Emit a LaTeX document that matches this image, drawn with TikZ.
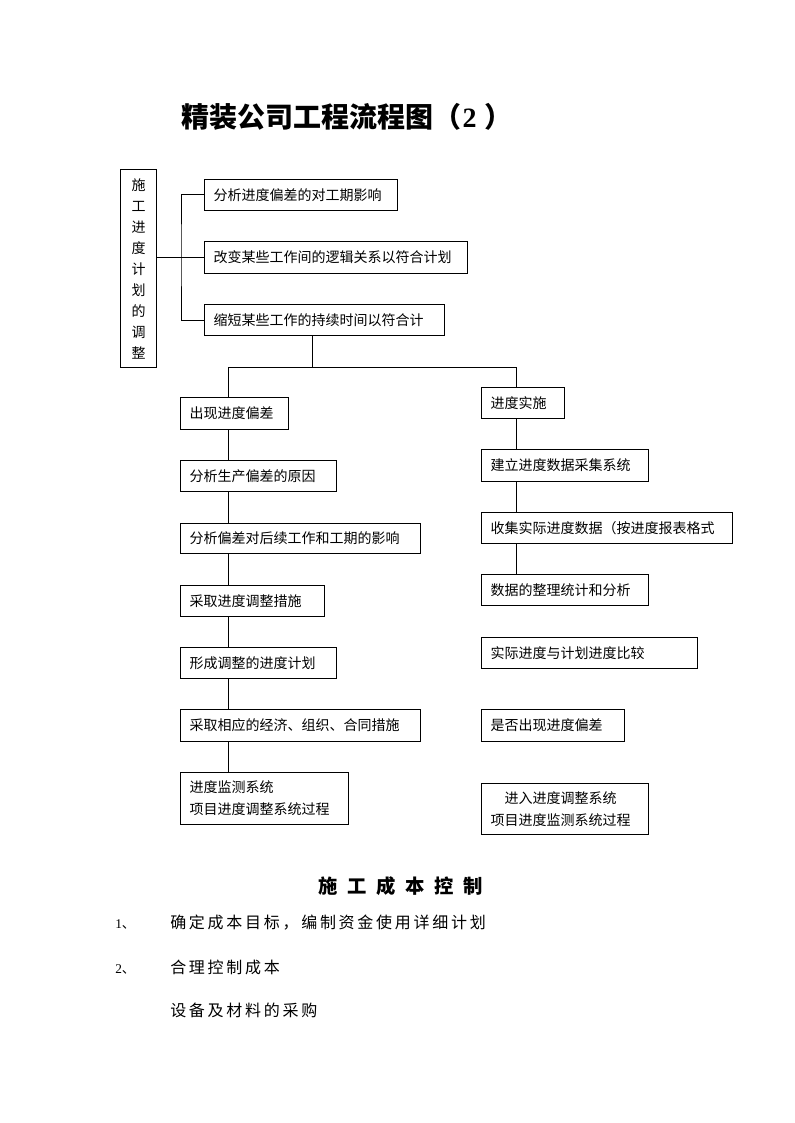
\documentclass[tikz,border=0pt]{standalone}
\usepackage{fontspec}
\newfontfamily\cjk{Noto Sans CJK SC}
\newfontfamily\cjkhead{Noto Sans CJK SC}[LetterSpace=50]
\newfontfamily\cjklist{Noto Sans CJK SC}[LetterSpace=17]
\newfontfamily\numfont{Liberation Serif}
\newcommand\flowbox[6]{%
  \pgfmathsetmacro\bxw{(#4-#2-18)*0.75}%
  \pgfmathsetmacro\bxh{(#5-#3)*0.75}%
  \node[flowbx, text width=\bxw pt, minimum height=\bxh pt, anchor=north west] (#1) at (#2,#3) {#6};}
\tikzset{
  flowbx/.style={draw, line width=0.75pt, inner xsep=6.75pt, inner ysep=0pt, align=left,
     font=\cjk\fontsize{10.5pt}{16.5pt}\selectfont},
  conn/.style={draw, line width=0.75pt},
  listtxt/.style={anchor=base west, inner sep=0pt, font=\cjklist\fontsize{12pt}{14pt}\selectfont},
  listnum/.style={anchor=base west, inner sep=0pt, font=\fontsize{10pt}{12pt}\selectfont}
}
\begin{document}
\begin{tikzpicture}[x=0.75pt, y=-0.75pt]
\useasboundingbox[fill=white] (0,0) rectangle (794,1123);

% title
\node[anchor=west, inner sep=0pt, font=\cjk\bfseries\fontsize{21pt}{24pt}\selectfont] (title) at (181,117)
  {精装公司工程流程图（\kern1pt{\numfont\bfseries 2}\kern6pt）};

% vertical box
\node[draw, line width=0.75pt, anchor=north west, minimum width=27pt, minimum height=148.5pt,
  text width=27pt, inner sep=0pt, align=center,
  font=\cjk\fontsize{10.5pt}{15.75pt}\selectfont] (V) at (120,169)
  {施\\工\\进\\度\\计\\划\\的\\调\\整};

% top three boxes
\flowbox{b1}{204}{179}{397}{210}{分析进度偏差的对工期影响}
\flowbox{b2}{204}{241}{467}{273}{改变某些工作间的逻辑关系以符合计划}
\flowbox{b3}{204}{304}{444}{335}{缩短某些工作的持续时间以符合计}

% left column
\flowbox{L1}{180}{397}{288}{429}{出现进度偏差}
\flowbox{L2}{180}{460}{336}{491}{分析生产偏差的原因}
\flowbox{L3}{180}{523}{420}{553}{分析偏差对后续工作和工期的影响}
\flowbox{L4}{180}{585}{324}{616}{采取进度调整措施}
\flowbox{L5}{180}{647}{336}{678}{形成调整的进度计划}
\flowbox{L6}{180}{709}{420}{741}{采取相应的经济、组织、合同措施}
\flowbox{L7}{180}{772}{348}{824}{进度监测系统\\项目进度调整系统过程}

% right column
\flowbox{R1}{481}{387}{564}{418}{进度实施}
\flowbox{R2}{481}{449}{648}{481}{建立进度数据采集系统}
\flowbox{R3}{481}{512}{732}{543}{收集实际进度数据（按进度报表格式}
\flowbox{R4}{481}{574}{648}{605}{数据的整理统计和分析}
\flowbox{R5}{481}{637}{697}{668}{实际进度与计划进度比较}
\flowbox{R6}{481}{709}{624}{741}{是否出现进度偏差}
\flowbox{R7}{481}{783}{648}{834}{\hspace*{1em}进入进度调整系统\\项目进度监测系统过程}

% connectors: bracket
\coordinate (bk) at (181,253);
\draw[conn] (b1.west) -| (bk) |- (b3.west);
\draw[conn] (V.east |- b2.west) -- (b2.west);

% split
\coordinate (sp) at (312,367);
\coordinate (jl) at (228,367);
\coordinate (jr) at (516,367);
\draw[conn] (sp |- b3.south) -- (sp);
\draw[conn] (L1.north -| jl) -- (jl) -- (jr) -- (R1.north -| jr);

\foreach \a/\b in {L1/L2, L2/L3, L3/L4, L4/L5, L5/L6, L6/L7}
  \draw[conn] (\a.south -| jl) -- (\b.north -| jl);
\foreach \a/\b in {R1/R2, R2/R3, R3/R4}
  \draw[conn] (\a.south -| jr) -- (\b.north -| jr);

% bottom section
\node[anchor=west, inner sep=0pt, font=\cjkhead\bfseries\fontsize{14.5pt}{16pt}\selectfont] (head) at (318,886) {施工成本控制};

\node[listnum] (n1) at (115,928.5) {{\numfont 1}\cjk 、};
\node[listtxt] (t1) at (170,928.5) {确定成本目标，编制资金使用详细计划};
\node[listnum] (n2) at (115,973) {{\numfont 2}\cjk 、};
\node[listtxt] (t2) at (170,973) {合理控制成本};
\node[listtxt] (t3) at (170,1016) {设备及材料的采购};
\end{tikzpicture}
\end{document}
